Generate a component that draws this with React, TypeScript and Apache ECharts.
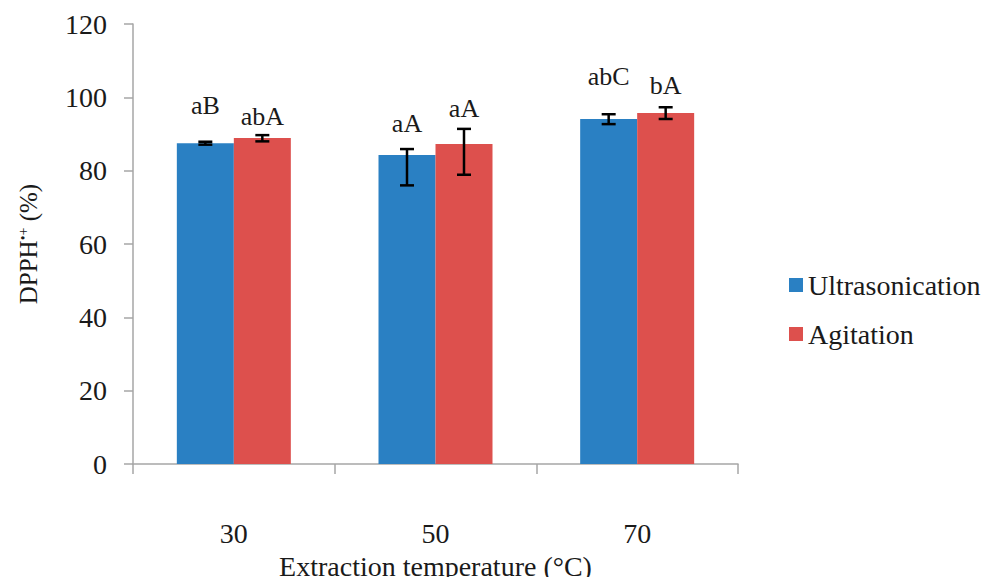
import React, { useEffect, useRef } from "react";
import * as echarts from "echarts";

const categories = ["30", "50", "70"];
const seriesNames = ["Ultrasonication", "Agitation"];
const ultrasonication = [87.5, 84.3, 94.1];
const agitation = [88.9, 87.3, 95.7];
const ultraErrLow = [87.1, 76.0, 92.7];
const ultraErrHigh = [87.9, 85.9, 95.4];
const agitErrLow = [88.0, 78.9, 94.1];
const agitErrHigh = [89.7, 91.4, 97.3];
const ultraLetters = ["aB", "aA", "abC"];
const agitLetters = ["abA", "aA", "bA"];
const yTicks = { min: 0, max: 120, interval: 20 };

// style
const BLUE = "#2a80c3";
const RED = "#dd504d";
const BAR_W = 57;
const ultraLabelOffset = [36, 26, 38];
const agitLabelOffset = [19, 20, 22];
const FONT = "'Liberation Serif', 'Times New Roman', serif";
const TXT = "#1a1a1a";
const AXIS = "#a6a6a6";

function errSeries(low: number[], high: number[], letters: string[], offsets: number[], dx: number) {
  return {
    type: "custom",
    silent: true,
    z: 10,
    data: low.map((l, i) => [i, l, high[i]]),
    renderItem: (params: any, api: any) => {
      const i = api.value(0);
      const lo = api.coord([i, api.value(1)]);
      const hi = api.coord([i, api.value(2)]);
      const x = lo[0] + dx;
      const cap = 7;
      const ls = { stroke: "#000", lineWidth: 2.5 };
      return {
        type: "group",
        children: [
          { type: "line", shape: { x1: x, y1: lo[1], x2: x, y2: hi[1] }, style: ls },
          { type: "line", shape: { x1: x - cap, y1: lo[1], x2: x + cap, y2: lo[1] }, style: ls },
          { type: "line", shape: { x1: x - cap, y1: hi[1], x2: x + cap, y2: hi[1] }, style: ls },
          {
            type: "text",
            x: x,
            y: hi[1] - offsets[params.dataIndex],
            style: {
              text: letters[params.dataIndex],
              fill: TXT,
              font: `26px ${FONT}`,
              textAlign: "center",
              textVerticalAlign: "middle",
            },
          },
        ],
      };
    },
  };
}

export default function App() {
  const ref = useRef<HTMLDivElement>(null);
  useEffect(() => {
    if (!ref.current) return;
    const chart = echarts.init(ref.current, undefined, { renderer: "svg" });
    chart.setOption({
      animation: false,
      backgroundColor: "#fff",
      grid: { left: 133, top: 24, width: 605, height: 444 },
      legend: {
        orient: "vertical",
        left: 784,
        top: 266,
        itemWidth: 14,
        itemHeight: 14,
        itemGap: 21,
        icon: "rect",
        data: seriesNames,
        textStyle: { fontFamily: FONT, fontSize: 28, color: TXT },
      },
      xAxis: {
        type: "category",
        data: categories,
        name: "Extraction temperature (°C)",
        nameLocation: "middle",
        nameGap: 86,
        nameTextStyle: { fontFamily: FONT, fontSize: 28, color: TXT },
        axisLine: { lineStyle: { color: AXIS, width: 1.5 } },
        axisTick: { show: true, length: 10, lineStyle: { color: AXIS, width: 1.5 } },
        axisLabel: { margin: 55, fontFamily: FONT, fontSize: 28, color: TXT },
      },
      yAxis: {
        type: "value",
        min: yTicks.min,
        max: yTicks.max,
        interval: yTicks.interval,
        name: "DPPH{sup|•+} (%)",
        nameLocation: "middle",
        nameRotate: 90,
        nameGap: 92,
        nameTextStyle: {
          fontFamily: FONT,
          fontSize: 25,
          color: TXT,
          rich: {
            sup: { fontFamily: FONT, fontSize: 14, color: TXT, verticalAlign: "top", padding: [0, 0, 10, 0] },
          },
        },
        axisLine: { show: true, lineStyle: { color: AXIS, width: 1.5 } },
        axisTick: { show: true, length: 9, lineStyle: { color: AXIS, width: 1.5 } },
        splitLine: { show: false },
        axisLabel: { margin: 26, fontFamily: FONT, fontSize: 28, color: TXT },
      },
      series: [
        {
          name: seriesNames[0],
          type: "bar",
          data: ultrasonication,
          barWidth: BAR_W,
          barGap: "0%",
          itemStyle: { color: BLUE },
        },
        {
          name: seriesNames[1],
          type: "bar",
          data: agitation,
          barWidth: BAR_W,
          barGap: "0%",
          itemStyle: { color: RED },
        },
        errSeries(ultraErrLow, ultraErrHigh, ultraLetters, ultraLabelOffset, -BAR_W / 2),
        errSeries(agitErrLow, agitErrHigh, agitLetters, agitLabelOffset, BAR_W / 2),
      ],
    });
    return () => chart.dispose();
  }, []);
  return <div ref={ref} style={{ width: 993, height: 585, margin: -8 }} />;
}
